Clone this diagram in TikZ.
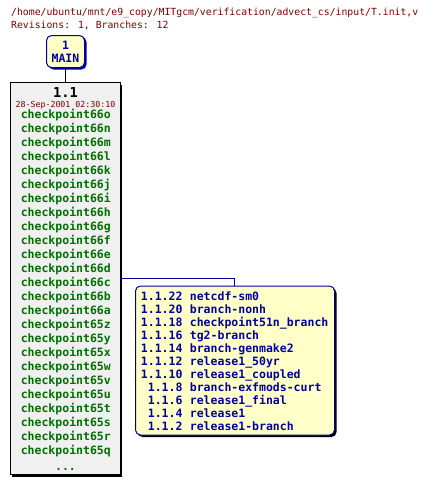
\documentclass[tikz,border=0pt]{standalone}
\usepackage{fontspec}
\newfontfamily\mono{DejaVu Sans Mono}
\definecolor{titlered}{HTML}{800000}
\definecolor{cpgreen}{HTML}{007000}
\definecolor{brblue}{HTML}{0000A0}
\definecolor{boxyellow}{HTML}{FFFFC8}
\definecolor{boxgray}{HTML}{F0F0F0}
\tikzset{
  ttl/.style={anchor=base west, inner sep=0pt, text=titlered, font=\mono\fontsize{9.8}{11}\selectfont},
  cpt/.style={anchor=base, inner sep=0pt, text=cpgreen, font=\mono\bfseries\fontsize{11.5}{13}\selectfont},
  brnum/.style={anchor=base east, inner sep=0pt, text=brblue, font=\mono\bfseries\fontsize{11.5}{13}\selectfont},
  brname/.style={anchor=base west, inner sep=0pt, text=brblue, font=\mono\bfseries\fontsize{11.5}{13}\selectfont},
}
\begin{document}
\begin{tikzpicture}[x=1pt,y=-1pt]
\useasboundingbox (0,0) rectangle (434,485);
% title
\node[ttl] (t1) at (11,15.5) {/home/ubuntu/mnt/e9\_copy/MITgcm/verification/advect\_cs/input/T.init,v};
\node[ttl] (t2) at (11,28.5) {Revisions: 1, Branches: 12};
% MAIN box
\fill[brblue, rounded corners=5pt] (48.5,37) rectangle (86.5,69.5);
\draw[brblue, fill=boxyellow, line width=1pt, rounded corners=5pt] (46.5,35.5) rectangle (84.5,67.5);
\node[anchor=base, inner sep=0pt, text=brblue, font=\mono\bfseries\fontsize{11.5}{13}\selectfont] (m1) at (65.5,49) {1};
\node[anchor=base, inner sep=0pt, text=brblue, font=\mono\bfseries\fontsize{11.5}{13}\selectfont] (m2) at (65.5,62.3) {MAIN};
\coordinate (mainb) at (65.5,68);
\coordinate (revt) at (65.5,82.5);
\draw[black, line width=0.8pt] (mainb) -- (revt);
% revision box
\fill[black] (12,84.5) rectangle (122,476.5);
\draw[black, fill=boxgray, line width=1pt] (10.5,82.5) rectangle (120.5,474.5);
\node[anchor=base, inner sep=0pt, text=black, font=\mono\bfseries\fontsize{13.7}{15}\selectfont] (r) at (65.5,97.5) {1.1};
\node[anchor=base, inner sep=0pt, text=titlered, font=\mono\fontsize{8.3}{9}\selectfont] (d) at (65.5,107) {28-Sep-2001 02:30:10};
\foreach \t [count=\i from 0] in {66o,66n,66m,66l,66k,66j,66i,66h,66g,66f,66e,66d,66c,66b,66a,65z,65y,65x,65w,65v,65u,65t,65s,65r,65q}{
  \node[cpt] (c\t) at (65.8,118.5+14*\i) {checkpoint\t};
}
\node[cpt] (dots) at (65.5,470) {...};
% branch box
\fill[black, rounded corners=5pt] (137.5,288) rectangle (336.5,437);
\draw[brblue, fill=boxyellow, line width=1pt, rounded corners=5pt] (135.5,286) rectangle (334.5,435);
\coordinate (brt) at (234.5,286);
\coordinate (bend) at (234.5,278.5);
\coordinate (rr) at (120.5,278.5);
\draw[brblue, line width=0.8pt] (rr) -- (bend) -- (brt);
\foreach \n/\s [count=\i from 0] in {1.1.22/netcdf-sm0,1.1.20/branch-nonh,1.1.18/checkpoint51n\_branch,1.1.16/tg2-branch,1.1.14/branch-genmake2,1.1.12/release1\_50yr,1.1.10/release1\_coupled,1.1.8/branch-exfmods-curt,1.1.6/release1\_final,1.1.4/release1,1.1.2/release1-branch}{
  \node[brnum] (n\i) at (182.7,300+13*\i) {\n};
  \node[brname] (s\i) at (189.7,300+13*\i) {\s};
}
\end{tikzpicture}
\end{document}
